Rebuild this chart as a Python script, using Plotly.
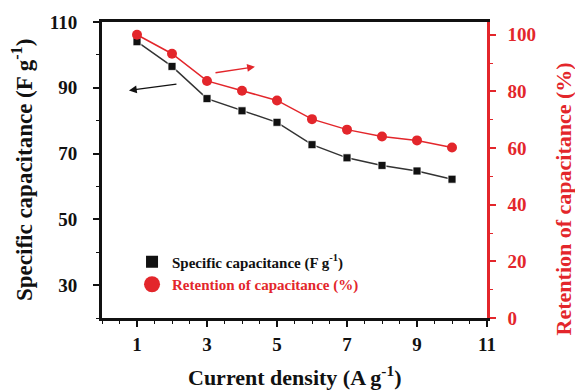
import plotly.graph_objects as go

current_density = [1, 2, 3, 4, 5, 6, 7, 8, 9, 10]
specific_capacitance = [104.0, 96.5, 86.7, 83.0, 79.5, 72.7, 68.7, 66.4, 64.7, 62.2]
retention = [100.0, 93.3, 83.7, 80.2, 76.8, 70.2, 66.5, 64.1, 62.7, 60.2]

x_ticks = [1, 3, 5, 7, 9, 11]
left_ticks = [30, 50, 70, 90, 110]
right_ticks = [0, 20, 40, 60, 80, 100]

FONT = "Liberation Serif"
RED = "#e3262b"
BLACK = "#111111"
TICK_SIZE = 19
TITLE_SIZE = 23

fig = go.Figure()
fig.add_trace(go.Scatter(
    x=current_density, y=specific_capacitance, mode="lines+markers",
    line=dict(color="#333333", width=1.5),
    marker=dict(symbol="square", size=8, color=BLACK, line=dict(color="white", width=0.8)),
    showlegend=False, yaxis="y"))
fig.add_trace(go.Scatter(
    x=current_density, y=retention, mode="lines+markers",
    line=dict(color=RED, width=1.5),
    marker=dict(symbol="circle", size=10, color=RED),
    showlegend=False, yaxis="y2"))
# legend entries
fig.add_trace(go.Scatter(
    x=[None], y=[None], mode="markers", name="Specific capacitance (F g<sup>-1</sup>)",
    marker=dict(symbol="square", size=12, color=BLACK)))
fig.add_trace(go.Scatter(
    x=[None], y=[None], mode="markers", name="<span style='color:%s'>Retention of capacitance (%%)</span>" % RED,
    marker=dict(symbol="circle", size=16, color=RED)))

fig.update_layout(
    width=575, height=391,
    margin=dict(l=102, r=88, t=16, b=73),
    paper_bgcolor="white", plot_bgcolor="white",
    font=dict(family=FONT, color=BLACK),
    showlegend=True,
    legend=dict(x=0.078, y=0.152, xanchor="left", yanchor="middle",
                bgcolor="rgba(0,0,0,0)", font=dict(family=FONT, size=15, color=BLACK, weight="bold"),
                tracegroupgap=4, itemsizing="trace"),
    xaxis=dict(
        range=[0, 11], tickvals=x_ticks, ticktext=["<b>%d</b>" % v for v in x_ticks],
        showline=True, linecolor=BLACK, linewidth=3, mirror=True,
        ticks="outside", ticklen=6, tickwidth=1.5, tickcolor=BLACK,
        minor=dict(dtick=0.5, tick0=0, ticks="outside", ticklen=3, tickwidth=1, tickcolor=BLACK),
        showgrid=False, zeroline=False, ticklabelstandoff=1,
        tickfont=dict(family=FONT, size=TICK_SIZE, color=BLACK),
    ),
    yaxis=dict(
        range=[20, 110], tickvals=left_ticks, ticktext=["<b>%d</b>" % v for v in left_ticks],
        showline=True, linecolor=BLACK, linewidth=3,
        ticks="outside", ticklen=6, tickwidth=1.5, tickcolor=BLACK,
        minor=dict(dtick=10, tick0=20, ticks="outside", ticklen=3, tickwidth=1, tickcolor=BLACK),
        showgrid=False, zeroline=False, ticklabelstandoff=12,
        tickfont=dict(family=FONT, size=TICK_SIZE, color=BLACK),
    ),
    yaxis2=dict(
        range=[0, 104.5], overlaying="y", side="right",
        tickvals=right_ticks, ticktext=["<b>%d</b>" % v for v in right_ticks],
        showline=True, linecolor=RED, linewidth=2.5,
        ticks="outside", ticklen=6, tickwidth=1.5, tickcolor=RED,
        minor=dict(dtick=10, tick0=0, ticks="outside", ticklen=3, tickwidth=1, tickcolor=RED),
        showgrid=False, zeroline=False, ticklabelstandoff=8,
        tickfont=dict(family=FONT, size=TICK_SIZE, color=RED),
    ),
)

# axis titles as annotations (paper coords)
W, H = 575, 391
L, R, T, B = 102, 88, 16, 73
pw, ph = W - L - R, H - T - B
def px(xp):
    return (xp - L) / pw
def py(yp):
    return (H - B - yp) / ph

fig.add_annotation(text="<b>Current density (A g<sup>-1</sup>)</b>", xref="paper", yref="paper",
                   x=px(294), y=py(377), showarrow=False, xanchor="center", yanchor="middle",
                   font=dict(family=FONT, size=22, color=BLACK))
fig.add_annotation(text="<b>Specific capacitance (F g<sup>-1</sup>)</b>", xref="paper", yref="paper",
                   x=px(22), y=py(167), showarrow=False, xanchor="center", yanchor="middle", textangle=-90,
                   font=dict(family=FONT, size=TITLE_SIZE, color=BLACK))
fig.add_annotation(text="<b>Retention of capacitance (%)</b>", xref="paper", yref="paper",
                   x=px(563), y=py(197), showarrow=False, xanchor="center", yanchor="middle", textangle=-90,
                   font=dict(family=FONT, size=22, color=RED))

# arrows indicating axes
fig.add_annotation(x=0.77, y=89.2, ax=2.17, ay=91.2, xref="x", yref="y", axref="x", ayref="y",
                   text="", showarrow=True, arrowhead=2, arrowsize=1.2, arrowwidth=1.3, arrowcolor=BLACK)
fig.add_annotation(x=4.37, y=96.4, ax=3.2, ay=94.5, xref="x", yref="y", axref="x", ayref="y",
                   text="", showarrow=True, arrowhead=2, arrowsize=1.2, arrowwidth=1.3, arrowcolor=RED)

fig.write_html("out.html")
